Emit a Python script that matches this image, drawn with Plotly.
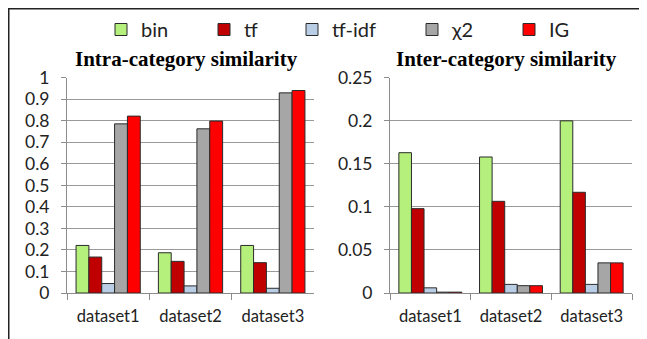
import plotly.graph_objects as go

categories = ["dataset1", "dataset2", "dataset3"]
series_names = ["bin", "tf", "tf-idf", "χ2", "IG"]
series_colors = ["#b5ef7c", "#c00000", "#b9cde5", "#a6a6a6", "#ff0000"]

intra_bin = [0.221, 0.187, 0.221]
intra_tf = [0.167, 0.147, 0.141]
intra_tfidf = [0.044, 0.033, 0.022]
intra_chi2 = [0.786, 0.763, 0.930]
intra_ig = [0.822, 0.799, 0.941]

inter_bin = [0.163, 0.158, 0.200]
inter_tf = [0.098, 0.1065, 0.117]
inter_tfidf = [0.006, 0.010, 0.010]
inter_chi2 = [0.001, 0.0085, 0.035]
inter_ig = [0.001, 0.0085, 0.035]

intra_values = [intra_bin, intra_tf, intra_tfidf, intra_chi2, intra_ig]
inter_values = [inter_bin, inter_tf, inter_tfidf, inter_chi2, inter_ig]

# page has an 8px body margin: the figure is laid out in page coordinates minus 8
OFF = 8
W, H = 647 - OFF, 339 - OFF


def fx(xp):
    return (xp - OFF) / W


def fy(yp):
    return 1 - (yp - OFF) / H


fig = go.Figure()

legend_names = ["legend", "legend2", "legend3", "legend4", "legend5"]
marker_centers = [125, 228, 316, 436, 533]

for i, name in enumerate(series_names):
    fig.add_trace(go.Bar(
        x=categories, y=intra_values[i], name=name,
        marker=dict(color=series_colors[i], line=dict(color="#2b2b2b", width=1)),
        xaxis="x", yaxis="y", legend=legend_names[i], showlegend=True,
    ))
for i, name in enumerate(series_names):
    fig.add_trace(go.Bar(
        x=categories, y=inter_values[i], name=name,
        marker=dict(color=series_colors[i], line=dict(color="#2b2b2b", width=1)),
        xaxis="x2", yaxis="y2", showlegend=False,
    ))

ydom = [fy(293), fy(77.8)]
tickfont = dict(family="Lato", size=17.5, color="#222222")
xcommon = dict(
    type="category", showline=True, linecolor="#8c8c8c", linewidth=1,
    ticks="outside", tickson="boundaries", ticklen=6, tickcolor="#8c8c8c",
    showgrid=False, tickfont=dict(family="Lato", size=16.5, color="#222222"),
    ticklabelstandoff=8, automargin=False,
)
ycommon = dict(
    showline=True, linecolor="#8c8c8c", linewidth=1,
    ticks="outside", ticklen=5, tickcolor="#8c8c8c",
    showgrid=True, gridcolor="#9a9a9a", gridwidth=1, zeroline=False,
    tickfont=tickfont, ticklabelstandoff=8, automargin=False,
)

layout = dict(
    width=W, height=H,
    margin=dict(l=0, r=0, t=0, b=0, autoexpand=False),
    paper_bgcolor="white", plot_bgcolor="white",
    barmode="group", bargap=0.22, bargroupgap=0,
    xaxis=dict(domain=[fx(67), fx(314)], anchor="y", **xcommon),
    yaxis=dict(domain=ydom, anchor="x", range=[0, 1], dtick=0.1, **ycommon),
    xaxis2=dict(domain=[fx(390), fx(632)], anchor="y2", **xcommon),
    yaxis2=dict(domain=ydom, anchor="x2", range=[0, 0.25], dtick=0.05, **ycommon),
    annotations=[
        dict(text="<b>Intra-category similarity</b>", x=fx(186), y=fy(59),
             xref="paper", yref="paper", xanchor="center", yanchor="middle",
             showarrow=False, font=dict(family="Liberation Serif", size=21, color="black")),
        dict(text="<b>Inter-category similarity</b>", x=fx(506), y=fy(59),
             xref="paper", yref="paper", xanchor="center", yanchor="middle",
             showarrow=False, font=dict(family="Liberation Serif", size=21, color="black")),
    ],
    shapes=[
        dict(type="line", xref="paper", yref="paper", x0=0.75 / W, x1=fx(640),
             y0=1 - 0.75 / H, y1=1 - 0.75 / H, line=dict(color="#222222", width=1.5)),
        dict(type="line", xref="paper", yref="paper", x0=0.75 / W, x1=0.75 / W,
             y0=0, y1=1, line=dict(color="#222222", width=1.5)),
    ],
)
for i, ln in enumerate(legend_names):
    layout[ln] = dict(
        x=fx(marker_centers[i] - 24), xanchor="left",
        y=fy(29.5), yanchor="middle", orientation="h",
        bgcolor="rgba(0,0,0,0)", borderwidth=0,
        font=dict(family="Lato", size=20, color="#222222"),
        itemwidth=30,
    )
fig.update_layout(**layout)

fig.write_html("out.html")
